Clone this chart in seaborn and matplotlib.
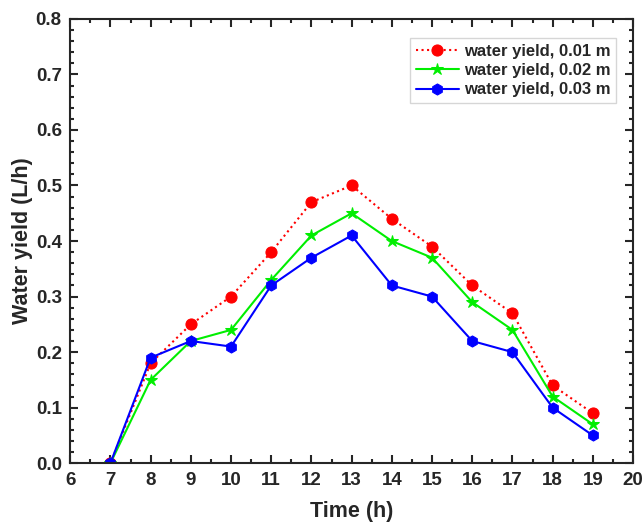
import matplotlib
matplotlib.use("Agg")
import matplotlib.pyplot as plt
from matplotlib.ticker import MultipleLocator
import seaborn as sns
import pandas as pd

hours = [7, 8, 9, 10, 11, 12, 13, 14, 15, 16, 17, 18, 19]
yield_001 = [0.0, 0.18, 0.25, 0.30, 0.38, 0.47, 0.50, 0.44, 0.39, 0.32, 0.27, 0.14, 0.09]
yield_002 = [0.0, 0.15, 0.22, 0.24, 0.33, 0.41, 0.45, 0.40, 0.37, 0.29, 0.24, 0.12, 0.07]
yield_003 = [0.0, 0.19, 0.22, 0.21, 0.32, 0.37, 0.41, 0.32, 0.30, 0.22, 0.20, 0.10, 0.05]
labels = ["water yield, 0.01 m", "water yield, 0.02 m", "water yield, 0.03 m"]

sns.set_style("ticks")
plt.rcParams["font.family"] = ["Liberation Sans", "DejaVu Sans"]
plt.rcParams["font.weight"] = "bold"

fig, ax = plt.subplots(figsize=(6.44, 5.24), dpi=100)

styles = [("red", "o", ":", 8), ("#00ee00", "*", "-", 9), ("blue", "h", "-", 8)]
for vals, lab, (c, m, ls, ms) in zip([yield_001, yield_002, yield_003], labels, styles):
    df = pd.DataFrame({"x": hours, "y": vals})
    sns.lineplot(data=df, x="x", y="y", ax=ax, color=c, marker=m, linestyle=ls,
                 markersize=ms, markeredgecolor=c, linewidth=1.5, label=lab)

ax.set_xlim(6, 20)
ax.set_ylim(0, 0.8)
ax.xaxis.set_major_locator(MultipleLocator(1))
ax.xaxis.set_minor_locator(MultipleLocator(0.5))
ax.yaxis.set_major_locator(MultipleLocator(0.1))
ax.yaxis.set_minor_locator(MultipleLocator(0.02))
ax.yaxis.set_major_formatter(matplotlib.ticker.FormatStrFormatter("%.1f"))
ax.tick_params(which="both", direction="in", top=True, right=True, width=1.5)
ax.tick_params(which="major", length=6, labelsize=13.5, pad=6)
ax.tick_params(which="minor", length=3)
for s in ax.spines.values():
    s.set_linewidth(1.5)

ax.set_xlabel("Time (h)", fontsize=15.5, fontweight="bold", labelpad=9)
ax.set_ylabel("Water yield (L/h)", fontsize=15.5, fontweight="bold", labelpad=2)

leg = ax.legend(loc="upper right", fontsize=12, frameon=True, fancybox=False,
                edgecolor="#cccccc", borderpad=0.35, handlelength=2.6,
                handletextpad=0.3, labelspacing=0.25, bbox_to_anchor=(0.985, 0.975))
for t in leg.get_texts():
    t.set_fontweight("bold")

fig.subplots_adjust(left=0.109, right=0.983, top=0.964, bottom=0.116)
fig.savefig("out.png", dpi=100)
